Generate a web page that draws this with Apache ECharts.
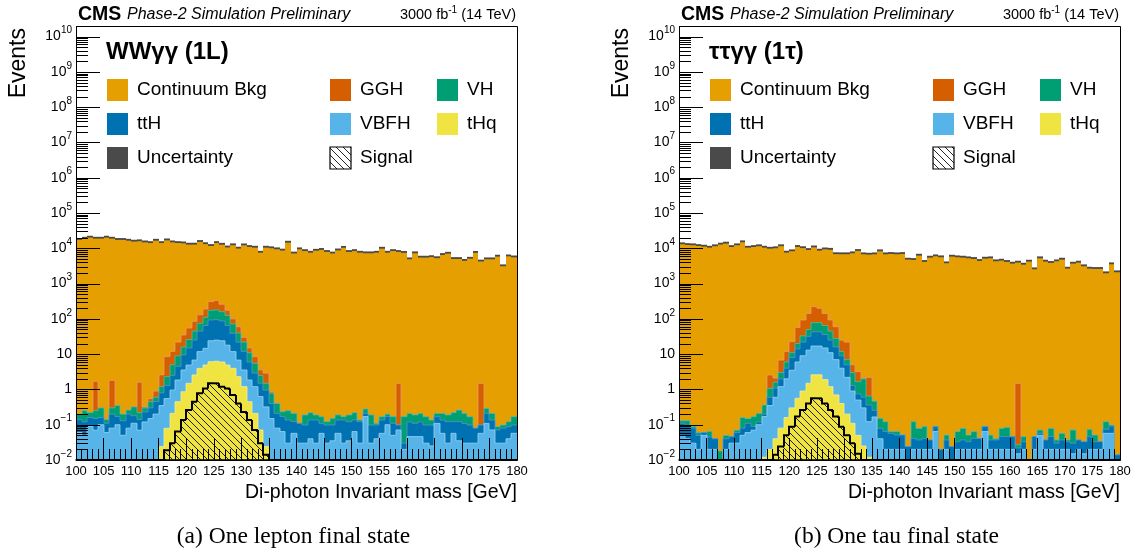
<!DOCTYPE html>
<html>
<head>
<meta charset="utf-8">
<script src="https://cdn.jsdelivr.net/npm/echarts@6/dist/echarts.min.js"></script>
<style>
html,body{margin:0;padding:0;background:#ffffff;}
#chart{width:1140px;height:553px;}
</style>
</head>
<body>
<div id="chart"></div>
<script>
// ================= DATA =================
// bin low edges (GeV), 1 GeV bins
const massBins = [100,101,102,103,104,105,106,107,108,109,110,111,112,113,114,115,116,117,118,119,
120,121,122,123,124,125,126,127,128,129,130,131,132,133,134,135,136,137,138,139,
140,141,142,143,144,145,146,147,148,149,150,151,152,153,154,155,156,157,158,159,
160,161,162,163,164,165,166,167,168,169,170,171,172,173,174,175,176,177,178,179];

// ---- panel (a): WWγγ (1L) ----
const wwTHQ = [0,0,0,0,0,0,0,0,0,0,
0,0,0,0,0,0.024,0.079,0.21,0.45,0.86,
1.49,2.57,3.96,4.93,6.1,6.3,6.0,4.93,3.96,2.3,
1.2,0.45,0.21,0.071,0.024,0.005,0,0,0,0,
0,0,0,0,0,0,0,0,0,0,
0,0,0,0,0,0,0,0,0,0,
0,0,0,0,0,0,0,0,0,0,
0,0,0,0,0,0,0,0,0,0];
const wwVBFH = [0.06,0.05,0.09,0.07,0.10,0.06,0.08,0.10,0.05,0.08,
0.11,0.07,0.12,0.15,0.20,0.326,0.471,0.75,1.40,2.70,
3.41,4.23,7.84,9.67,17.9,18.7,18.0,13.07,7.84,4.5,
2.36,1.4,0.99,0.559,0.296,0.145,0.08,0.064,0.03,0.057,
0.03,0.03,0.04,0.03,0.057,0.03,0.035,0.057,0.03,0.035,
0.064,0.03,0.17,0.03,0.04,0.057,0.10,0.05,0.071,0.02,
0.046,0.046,0.046,0.03,0.025,0.109,0.057,0.03,0.057,0.035,
0.03,0.03,0.03,0.057,0.109,0.071,0.03,0.03,0.04,0.057];
const wwTTH = [0.08,0.07,0.07,0.08,0.06,0.05,0.12,0.07,0.08,0.12,
0.07,0.07,0.11,0.15,0.25,0.45,0.75,1.54,2.65,5.94,
10.1,18.2,33.2,50.4,69,70,64,47,27.2,15.2,
8.44,4.15,1.7,0.87,0.64,0.25,0.13,0.106,0.106,0.065,
0.079,0.068,0.096,0.106,0.052,0.068,0.063,0.079,0.106,0.087,
0.072,0.092,0.04,0.068,0.058,0.079,0.07,0.06,0.027,0.01,
0.074,0.064,0.074,0.068,0.073,0.06,0.079,0.092,0.065,0.087,
0.079,0.068,0.05,0.041,0.101,0.065,0.041,0.05,0.048,0.041];
const wwVH = [0.06,0.13,0.06,0.10,0.14,0.03,0.10,0.18,0.07,0.06,
0.14,0.08,0.07,0.15,0.15,0.40,1.0,2.5,4.5,6.5,
11,20,30,45,82,85,72,60,33,18,
10,5,2.6,1.0,0.53,0.38,0.19,0.064,0.114,0.088,
0,0.092,0.084,0.054,0.06,0.024,0.054,0.054,0.033,0.068,
0.084,0.014,0.07,0.092,0.011,0.033,0.03,0.06,0,0.14,
0.09,0.08,0.09,0.071,0.038,0.041,0.074,0.068,0.098,0.138,
0.101,0.071,0,0,0.08,0.074,0.017,0.018,0.034,0.071];
const wwGGH = [0,0,0,1.45,0,0,1.5,0,0,0,
0,1.38,0.02,0.10,0.30,1.4,6.2,7.0,13,19,
29,40,55,80,135,150,100,50,28,20,
8,4,3.0,1.1,1.41,0.07,0.02,0,0,0,
0,0,0,0,0,0,0,0,0,0,
0,0,0,0,0,0,0,0,1.39,0,
0,0,0,0,0,0,0,0,0,0,
0,0,0,1.39,0,0,0,0,0,0];
const wwCont = [18400,20000,21400,20000,20000,21400,20000,18400,18400,17500,
16500,16900,15700,15000,17500,15000,17900,15700,15000,14700,
13500,13500,16000,13800,12100,14700,13200,11100,12900,10400,
12900,11600,11100,8000,11100,10700,10000,9200,15400,7600,
10000,8900,8000,9100,9600,8400,7600,9300,11000,8400,
8900,8000,7700,7700,8000,10400,8000,8900,8400,7900,
5200,7700,5800,5800,6000,5600,6900,7500,5300,5300,
4700,5400,7900,4500,5200,5200,6200,3300,6300,5900];
const wwSignal = [0,0,0,0,0,0,0,0,0,0,
0,0,0,0,0,0,0.019,0.030,0.064,0.136,
0.26,0.45,0.78,1.07,1.49,1.49,1.2,1.07,0.70,0.40,
0.23,0.136,0.071,0.030,0.014,0,0,0,0,0,
0,0,0,0,0,0,0,0,0,0,
0,0,0,0,0,0,0,0,0,0,
0,0,0,0,0,0,0,0,0,0,
0,0,0,0,0,0,0,0,0,0];

// ---- panel (b): ττγγ (1τ) ----
const ttTHQ = [0,0,0,0,0,0,0,0,0,0,
0,0,0,0,0,0.012,0.02,0.04,0.08,0.16,
0.3,0.56,0.9,1.5,2.6,2.6,1.9,1.2,0.7,0.4,
0.2,0.11,0.05,0.025,0.012,0.006,0,0,0,0,
0,0,0,0,0,0,0,0,0,0,
0,0,0,0,0,0,0,0,0,0,
0,0,0,0,0,0,0,0,0,0,
0,0,0,0,0,0,0,0,0,0];
const ttVBFH = [0.05,0.04,0.03,0.02,0.05,0.02,0.02,0.005,0.02,0.03,
0.03,0.05,0.06,0.07,0.10,0.158,0.33,0.56,1.12,1.84,
3.2,5.44,8.1,11.5,14.4,14.4,13.1,9.8,6.3,3.6,
2.0,0.79,0.45,0.275,0.11,0.16,0.04,0.02,0.02,0.02,
0.02,0.01,0.02,0.02,0.02,0.02,0.064,0.01,0.02,0.01,
0.02,0.02,0.02,0.02,0.02,0.064,0.02,0.02,0.02,0.02,
0.02,0.015,0.02,0.005,0.02,0.05,0.02,0.02,0.02,0.02,
0.02,0.015,0.02,0.015,0.02,0.02,0.02,0.057,0.057,0.008];
const ttTTH = [0.06,0.05,0.05,0.03,0.01,0.025,0.02,0.005,0.02,0.016,
0.03,0.03,0.05,0.02,0.02,0.03,0.25,0.5,0.8,2.0,
4.5,8,13,19,26,26,21,14,9,5,
2.8,0.4,0.25,0.3,0.24,0.09,0.039,0.044,0.037,0.031,
0.031,0.014,0.021,0.017,0.021,0.017,0.024,0.01,0.017,0.014,
0.013,0.017,0.013,0.021,0.021,0.024,0.017,0.017,0.026,0.026,
0.026,0.007,0.013,0.003,0.026,0.007,0.017,0.026,0.01,0.017,
0.013,0.015,0.017,0.018,0.026,0.013,0.013,0.017,0.035,0.006];
const ttVH = [0.02,0.04,0.01,0.01,0,0.02,0,0.008,0.01,0,
0.01,0.08,0.04,0.08,0.09,0.16,0.47,0.5,1.0,2.0,
3.0,6,11,18,35,35,29,20,12,3,
2,1.7,0.91,1.4,0.29,0.21,0.073,0.058,0.007,0.013,
0,0,0.081,0.042,0.049,0,0.002,0,0.014,0,
0.031,0.042,0.018,0.023,0,0.002,0.014,0.003,0.033,0.038,
0,0.005,0.013,0.002,0,0.014,0,0.033,0.007,0.02,
0.004,0.041,0,0,0.028,0.018,0,0.048,0.006,0];
const ttGGH = [0,0,0,0,0,0,0,0,0,0,
0,0,0,0,0,0,1.5,0.5,3.8,5.8,
11.6,37,60,93,144,122,78,48,32,13,
15,2.0,1.54,0,1.55,0,0,0,0,0,
0,0,0,0,0,0,0,0,0,0,
0,0,0,0,0,0,0,0,0,0,
0,1.46,0,0,0,0,0,0,0,0,
0,0,0,0,0,0,0,0,0,0];
const ttCont = [13900,13200,13000,12400,11900,11100,12200,13600,14500,11600,
13000,15800,11100,11600,12200,11100,10400,10700,12200,8040,
8770,11600,10700,9400,11100,8960,9800,9600,7210,7210,
7210,7700,8960,7210,7050,7210,8770,7210,7360,7210,
7360,5090,4980,6600,4380,5800,6330,5930,4010,6190,
5930,5800,5560,5320,4670,5430,5560,4570,4770,4380,
3920,4190,3670,4470,2710,5560,4470,4100,4570,5090,
2830,3920,4190,3300,2830,2770,2770,2090,3760,2230];
const ttSignal = [0,0,0,0,0,0,0,0,0,0,
0,0,0,0,0,0,0,0.014,0.024,0.05,
0.088,0.17,0.26,0.40,0.56,0.56,0.40,0.26,0.17,0.088,
0.05,0.030,0.015,0,0,0,0,0,0,0,
0,0,0,0,0,0,0,0,0,0,
0,0,0,0,0,0,0,0,0,0,
0,0,0,0,0,0,0,0,0,0,
0,0,0,0,0,0,0,0,0,0];

// component names, stacked bottom -> top
const compNames = ['tHq','VBFH','ttH','VH','GGH','Continuum Bkg'];
// y-axis tick labels (log axis, one per decade)
const yMajorExp = [-2,-1,0,1,2,3,4,5,6,7,8,9,10];
const yLabelBase = ['10','10','1','10','10','10','10','10','10','10','10','10','10'];
const yLabelExp  = ['\u22122','\u22121','','','2','3','4','5','6','7','8','9','10'];
const legendRows = [
  ['Continuum Bkg','GGH','VH'],
  ['ttH','VBFH','tHq'],
  ['Uncertainty','Signal']
];

// ================= STYLE / LAYOUT =================
const X_MIN = 100, X_MAX = 180, BIN_W = 1, Y_MIN = 0.01, Y_MAX = 2e10, UNC_REL = 0.06;
const SANS = "'Liberation Sans', Arial, Helvetica, sans-serif";
const SERIF = "'Liberation Serif', 'DejaVu Serif', serif";
const compColors = ['#F0E442','#56B4E9','#0072B2','#009E73','#D55E00','#E69F00'];
const compEdges  = ['#F6EE8E','#9CD3F3','#4F97CB','#55BD9D','#EC9A6C', null];
const UNC_COLOR = '#4a4a4a';

function makeHatch() {
  const s = 7;
  const c = document.createElement('canvas');
  c.width = s; c.height = s;
  const g = c.getContext('2d');
  g.strokeStyle = 'rgba(0,0,0,0.85)';
  g.lineWidth = 1;
  g.beginPath();
  g.moveTo(-1, -1); g.lineTo(s + 1, s + 1);
  g.moveTo(s - 1, -1); g.lineTo(s + 1, 1);
  g.moveTo(-1, s - 1); g.lineTo(1, s + 1);
  g.stroke();
  return c;
}
const HATCH = { image: makeHatch(), repeat: 'repeat' };

const PANELS = [
  { left: 76, top: 26, width: 441, height: 434, title: 'WW\u03B3\u03B3 (1L)', caption: '(a) One lepton final state',
    comps: [wwTHQ, wwVBFH, wwTTH, wwVH, wwGGH, wwCont], signal: wwSignal },
  { left: 679, top: 26, width: 441, height: 434, title: '\u03C4\u03C4\u03B3\u03B3 (1\u03C4)', caption: '(b) One tau final state',
    comps: [ttTHQ, ttVBFH, ttTTH, ttVH, ttGGH, ttCont], signal: ttSignal }
];

function clampY(v) { return Math.min(Math.max(v, Y_MIN), Y_MAX); }

function barRenderer(fill, edge) {
  return function (params, api) {
    const v = api.value(2);
    if (!(v > Y_MIN)) return null;
    const hi = clampY(v);
    const pA = api.coord([api.value(0), Y_MIN]), pB = api.coord([api.value(1), hi]);
    const xa = Math.round(pA[0]), xb = Math.round(pB[0]);
    const children = [{
      type: 'rect',
      shape: { x: xa, y: pB[1], width: xb - xa, height: pA[1] - pB[1] },
      style: { fill: fill }
    }];
    if (edge) {
      const pP = api.coord([api.value(0), clampY(api.value(3))]);
      children.push({
        type: 'polyline',
        shape: { points: [[xa, pP[1]], [xa, pB[1]], [xb, pB[1]]] },
        style: { stroke: edge, lineWidth: 0.8, fill: null }
      });
    }
    return { type: 'group', children: children };
  };
}

function uncRenderer(params, api) {
  const v = api.value(2);
  if (!(v > Y_MIN)) return null;
  const pA = api.coord([api.value(0), clampY(v * (1 - UNC_REL))]);
  const pB = api.coord([api.value(1), clampY(v * (1 + UNC_REL))]);
  const xa = Math.round(pA[0]), xb = Math.round(pB[0]);
  return { type: 'rect', shape: { x: xa, y: pB[1], width: xb - xa, height: pA[1] - pB[1] },
           style: { fill: UNC_COLOR } };
}

function signalRenderer(params, api) {
  const v = api.value(2), prev = api.value(3);
  const pA = api.coord([api.value(0), Y_MIN]);
  const pB = api.coord([api.value(1), clampY(v)]);
  const pP = api.coord([api.value(0), clampY(prev)]);
  const xa = Math.round(pA[0]), xb = Math.round(pB[0]);
  const children = [];
  if (v > Y_MIN) {
    children.push({ type: 'rect', shape: { x: xa, y: pB[1], width: xb - xa, height: pA[1] - pB[1] },
                    style: { fill: HATCH } });
  }
  children.push({ type: 'polyline',
    shape: { points: [[xa, pP[1]], [xa, pB[1]], [xb, pB[1]]] },
    style: { stroke: '#000', lineWidth: 2, fill: null, lineJoin: 'miter' } });
  return { type: 'group', children: children };
}

function yTickRenderer(params, api) {
  const v = api.value(1), major = api.value(2) === 1, li = api.value(3);
  const p = api.coord([X_MIN, v]);
  const y = Math.round(p[1]) + 0.5;
  const len = major ? 24 : 12;
  const children = [{ type: 'line', shape: { x1: p[0], y1: y, x2: p[0] + len, y2: y },
                      style: { stroke: '#000', lineWidth: 1 } }];
  if (major) {
    const txt = yLabelExp[li] ? '{b|' + yLabelBase[li] + '}{e|' + yLabelExp[li] + '}' : '{b|' + yLabelBase[li] + '}';
    children.push({ type: 'text', x: p[0] - 4, y: p[1],
      style: { text: txt, align: 'right', verticalAlign: 'middle',
        rich: { b: { fontSize: 14, fontFamily: SANS, fill: '#000', lineHeight: 22, verticalAlign: 'middle' },
                e: { fontSize: 10, fontFamily: SANS, fill: '#000', lineHeight: 9, verticalAlign: 'top' } } } });
  }
  return { type: 'group', children: children };
}

// y tick list (positions on the log axis)
const yTickData = [];
yMajorExp.forEach(function (e, li) {
  for (let k = 1; k <= 9; k++) {
    const v = k * Math.pow(10, e);
    if (v > Y_MAX * 1.0001) break;
    yTickData.push([X_MIN, v, k === 1 ? 1 : 0, li]);
  }
});

const grids = [], xAxes = [], yAxes = [], series = [], graphics = [];

PANELS.forEach(function (P, pi) {
  grids.push({ left: P.left, top: P.top, width: P.width, height: P.height, containLabel: false,
               outerBoundsMode: 'none', show: false });
  xAxes.push({ type: 'value', gridIndex: pi, min: X_MIN, max: X_MAX, interval: 5, z: 4,
    axisLine: { show: true, onZero: false, lineStyle: { color: '#000', width: 1.5 } },
    axisTick: { show: true, inside: true, length: 22, lineStyle: { color: '#000', width: 1 } },
    minorTick: { show: true, splitNumber: 5, length: 11, lineStyle: { color: '#000', width: 1 } },
    axisLabel: { show: true, interval: 0, margin: 5, color: '#000', fontFamily: SANS, fontSize: 13, hideOverlap: false },
    splitLine: { show: false }, minorSplitLine: { show: false } });
  yAxes.push({ type: 'log', logBase: 10, gridIndex: pi, min: Y_MIN, max: Y_MAX,
    axisLine: { show: false }, axisTick: { show: false }, axisLabel: { show: false },
    splitLine: { show: false }, minorTick: { show: false } });

  // cumulative stack (bottom -> top)
  const n = massBins.length;
  const cum = [];
  let run = new Array(n).fill(0);
  P.comps.forEach(function (vals) {
    run = run.map(function (b, i) { return b + vals[i]; });
    cum.push(run);
  });
  // draw largest (top of stack) first, ROOT THStack style
  for (let k = P.comps.length - 1; k >= 0; k--) {
    const tops = cum[k];
    series.push({ type: 'custom', name: compNames[k], xAxisIndex: pi, yAxisIndex: pi, silent: true, z: 2,
      data: massBins.map(function (m, i) { return [m, m + BIN_W, tops[i], i > 0 ? tops[i - 1] : tops[i], clampY(tops[i])]; }),
      encode: { x: 0, y: 4 },
      renderItem: barRenderer(compColors[k], compEdges[k]) });
  }
  const total = cum[cum.length - 1];
  series.push({ type: 'custom', name: 'Uncertainty', xAxisIndex: pi, yAxisIndex: pi, silent: true, z: 2,
    data: massBins.map(function (m, i) { return [m, m + BIN_W, total[i], clampY(total[i])]; }),
    encode: { x: 0, y: 3 }, renderItem: uncRenderer });
  series.push({ type: 'custom', name: 'Signal', xAxisIndex: pi, yAxisIndex: pi, silent: true, z: 2,
    data: massBins.map(function (m, i) { return [m, m + BIN_W, P.signal[i], i > 0 ? P.signal[i - 1] : 0, clampY(P.signal[i])]; }),
    encode: { x: 0, y: 4 }, renderItem: signalRenderer });
  series.push({ type: 'custom', name: 'yticks', xAxisIndex: pi, yAxisIndex: pi, silent: true, z: 3,
    data: yTickData, encode: { x: 0, y: 1 }, renderItem: yTickRenderer });

  // ---- text & frame (layout) ----
  const dx = P.left - 76;
  graphics.push({ type: 'rect', z: 100, silent: true,
    shape: { x: P.left + 0.5, y: P.top + 0.5, width: P.width, height: P.height },
    style: { fill: null, stroke: '#000', lineWidth: 1 } });
  graphics.push({ type: 'text', x: 78 + dx, y: 15, z: 100,
    style: { text: 'CMS', font: 'bold 19.5px ' + SANS, fill: '#000', verticalAlign: 'middle' } });
  graphics.push({ type: 'text', x: 127 + dx, y: 15, z: 100,
    style: { text: 'Phase-2 Simulation Preliminary', font: 'italic 16px ' + SANS, fill: '#000', verticalAlign: 'middle' } });
  graphics.push({ type: 'text', x: 516 + dx, y: 15, z: 100,
    style: { text: '{a|3000 fb}{s|-1}{a| (14 TeV)}', align: 'right', verticalAlign: 'middle',
      rich: { a: { fontSize: 14.5, fontFamily: SANS, fill: '#000', lineHeight: 20, verticalAlign: 'middle' },
              s: { fontSize: 10, fontFamily: SANS, fill: '#000', lineHeight: 9, verticalAlign: 'top' } } } });
  graphics.push({ type: 'text', x: 19 + dx, y: 28, rotation: Math.PI / 2, z: 100,
    style: { text: 'Events', font: '23px ' + SANS, fill: '#000', align: 'right', verticalAlign: 'middle' } });
  graphics.push({ type: 'text', x: 106 + dx, y: 52, z: 100,
    style: { text: P.title, font: 'bold 24px ' + SANS, fill: '#000', verticalAlign: 'middle' } });
  graphics.push({ type: 'text', x: P.left + P.width, y: 493, z: 100,
    style: { text: 'Di-photon Invariant mass [GeV]', font: '19.5px ' + SANS, fill: '#000', align: 'right', verticalAlign: 'middle' } });
  graphics.push({ type: 'text', x: P.left + P.width / 2 - 3, y: 537, z: 100,
    style: { text: P.caption, font: '23.5px ' + SERIF, fill: '#000', align: 'center', verticalAlign: 'middle' } });

  // legend
  const colX = [107, 330, 437], rowY = [90, 124, 158];
  const legendFill = { 'Continuum Bkg': compColors[5], 'GGH': compColors[4], 'VH': compColors[3],
    'ttH': compColors[2], 'VBFH': compColors[1], 'tHq': compColors[0], 'Uncertainty': UNC_COLOR, 'Signal': HATCH };
  legendRows.forEach(function (row, r) {
    row.forEach(function (name, c) {
      const bx = colX[c] + dx, by = rowY[r];
      const isSig = name === 'Signal';
      graphics.push({ type: 'rect', z: 100, shape: { x: bx, y: by - 11, width: 21, height: 22 },
        style: { fill: legendFill[name], stroke: isSig ? '#000' : null, lineWidth: isSig ? 1.2 : 0 } });
      graphics.push({ type: 'text', x: bx + 30, y: by, z: 100,
        style: { text: name, font: '19px ' + SANS, fill: '#000', verticalAlign: 'middle' } });
    });
  });
});

const chart = echarts.init(document.getElementById('chart'), null, { renderer: 'canvas' });
chart.setOption({
  animation: false,
  backgroundColor: '#ffffff',
  grid: grids,
  xAxis: xAxes,
  yAxis: yAxes,
  series: series,
  graphic: graphics
});
</script>
</body>
</html>
